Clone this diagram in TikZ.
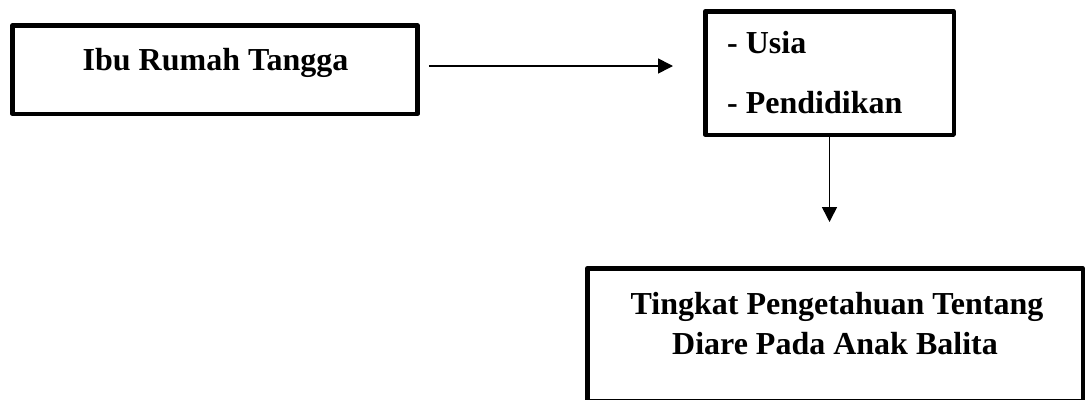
\documentclass[tikz,border=0pt]{standalone}
\usepackage{fontspec}
\setmainfont{Liberation Serif}
\usetikzlibrary{arrows.meta,calc}

\begin{document}
\begin{tikzpicture}[x=1pt,y=-1pt,
  box/.style={draw=black,line width=4.5pt,line join=round,rectangle,inner sep=0pt},
  lbl/.style={inner sep=0pt,font=\fontsize{32}{40}\selectfont\bfseries},
  arr/.style={draw=black,line width=1.6pt,-{Triangle[length=15pt,width=15pt]}}]
  \useasboundingbox (0,0) rectangle (1086,399);

  % boxes
  \node[box,minimum width=405pt,minimum height=88.5pt] (b1) at (215,69.5) {};
  \node[box,minimum width=248.5pt,minimum height=123.5pt] (b2) at (829.5,73) {};
  \node[box,minimum width=495.5pt,minimum height=132.5pt] (b3) at (835,334.5) {};

  % labels
  \node[lbl,anchor=base] (t1) at (215.5,70) {Ibu Rumah Tangga};
  \node[lbl,anchor=base west] (t2a) at (727,53) {- Usia};
  \node[lbl,anchor=base west] (t2b) at (727,113) {- Pendidikan};
  \node[lbl,anchor=base] (t3a) at (837,314) {Tingkat Pengetahuan Tentang};
  \node[lbl,anchor=base] (t3b) at (835,354.5) {Diare Pada Anak Balita};

  % connectors
  \coordinate (h1) at ($(b1.east)+(9,-3.5)$);
  \coordinate (h2) at ($(b2.west)+(-30,-7)$);
  \draw[arr] (h1) -- (h2);
  \coordinate (v2) at ($(b2.south)+(0,85)$);
  \draw[arr] (b2.south) -- (v2);
\end{tikzpicture}
\end{document}
